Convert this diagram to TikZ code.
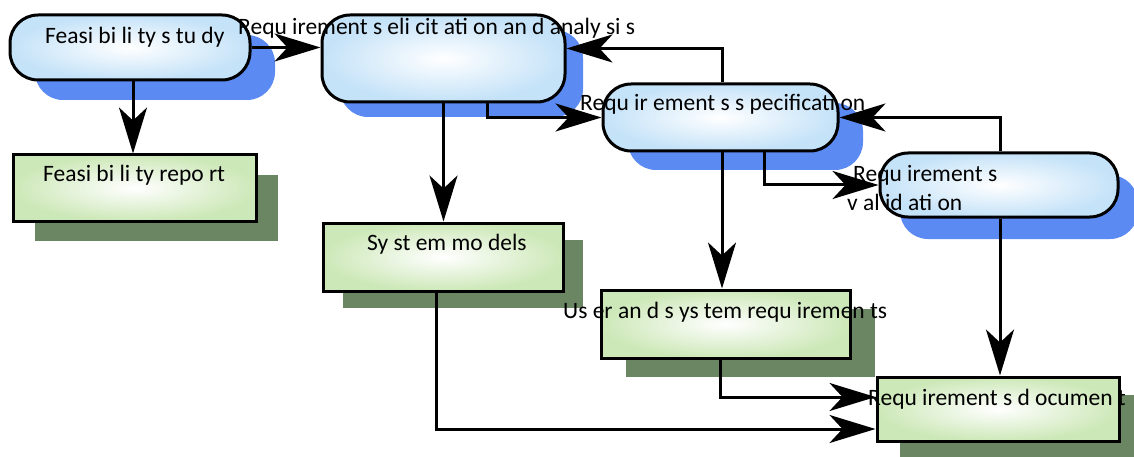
\documentclass[tikz,border=0pt]{standalone}
\usepackage{fontspec}
\setmainfont{Carlito}
\usetikzlibrary{arrows.meta,shadows}
\definecolor{lblue}{HTML}{C4E2F8}
\definecolor{lgreen}{HTML}{CDE8B8}
\definecolor{bshadow}{HTML}{5A8AF2}
\definecolor{gshadow}{HTML}{6A8663}
\tikzset{
  proc/.style 2 args={draw=black, line width=3pt, rounded corners=28pt,
    inner color=white, outer color=lblue,
    general shadow={fill=bshadow, shadow xshift=#1, shadow yshift=#2}},
  doc/.style 2 args={draw=black, line width=3pt,
    inner color=white, outer color=lgreen,
    general shadow={fill=gshadow, shadow xshift=#1, shadow yshift=#2}},
  lbl/.style={anchor=base west, inner sep=0pt, font=\fontsize{23.5}{28}\selectfont},
  conn/.style={line width=3pt, -{Stealth[length=46pt,width=28pt,inset=13pt]}},
}
\begin{document}
\begin{tikzpicture}[x=1pt,y=-1pt]
\useasboundingbox (0,0) rectangle (1134,457);
% process nodes (rounded)
\node[proc={25pt}{-20pt}, minimum width=240pt, minimum height=65pt] (fs) at (130,47.5) {};
\node[proc={18pt}{-15pt}, minimum width=243pt, minimum height=87pt] (el) at (443.5,58.5) {};
\node[proc={25pt}{-19pt}, minimum width=235pt, minimum height=67pt] (sp) at (720.5,117.5) {};
\node[proc={20pt}{-22pt}, minimum width=238pt, minimum height=64pt] (va) at (999,185) {};
% document nodes (rectangles)
\node[doc={22pt}{-20pt}, minimum width=243pt, minimum height=66pt] (fr) at (134.5,188) {};
\node[doc={20pt}{-17pt}, minimum width=240pt, minimum height=68pt] (sm) at (443,257) {};
\node[doc={25pt}{-19pt}, minimum width=249pt, minimum height=68pt] (ur) at (725.5,324) {};
\node[doc={23pt}{-18pt}, minimum width=242pt, minimum height=64pt] (rd) at (998,409) {};
% texts
\node[lbl] (tfs) at (45,44) {Feasi bi li ty s tu dy};
\node[lbl] (tfr) at (43,182) {Feasi bi li ty repo rt};
\node[lbl] (tel) at (238,35) {Requ irement s eli cit ati on an d analy si s};
\node[lbl] (tsp) at (580,111) {Requ ir ement s s pecificati on};
\node[lbl] (tva1) at (853,182) {Requ irement s};
\node[lbl] (tva2) at (847,210) {v al id ati on};
\node[lbl] (tsm) at (367,250) {Sy st em mo dels};
\node[lbl] (tur) at (563,318) {Us er an d s ys tem requ iremen ts};
\node[lbl] (trd) at (868,405) {Requ irement s d ocumen t};
% connectors
\draw[conn] ([xshift=3pt]fs.south) -- ([xshift=3pt]fs.south |- fr.north);
\draw[conn] (fs.east) -- (fs.east -| el.west);
\draw[conn] ([xshift=1.5pt]sp.north) |- ([yshift=10pt]el.east);
\draw[conn] (el.south) -- (el.south |- sm.north);
\draw[conn] ([xshift=44pt]el.south) |- (sp.west);
\draw[conn] ([xshift=1.5pt]sp.south) -- ([xshift=1.5pt]sp.south |- ur.north);
\draw[conn] ([xshift=44pt]sp.south) |- (va.west);
\draw[conn] ([xshift=1pt]va.north) |- (sp.east);
\draw[conn] ([xshift=1pt]va.south) -- ([xshift=1pt]va.south |- rd.north);
\draw[conn] ([xshift=-5.5pt]ur.south) |- ([yshift=12pt]rd.west);
\draw[conn] ([xshift=-7pt]sm.south) |- ([yshift=-20pt]rd.west);
\end{tikzpicture}
\end{document}
